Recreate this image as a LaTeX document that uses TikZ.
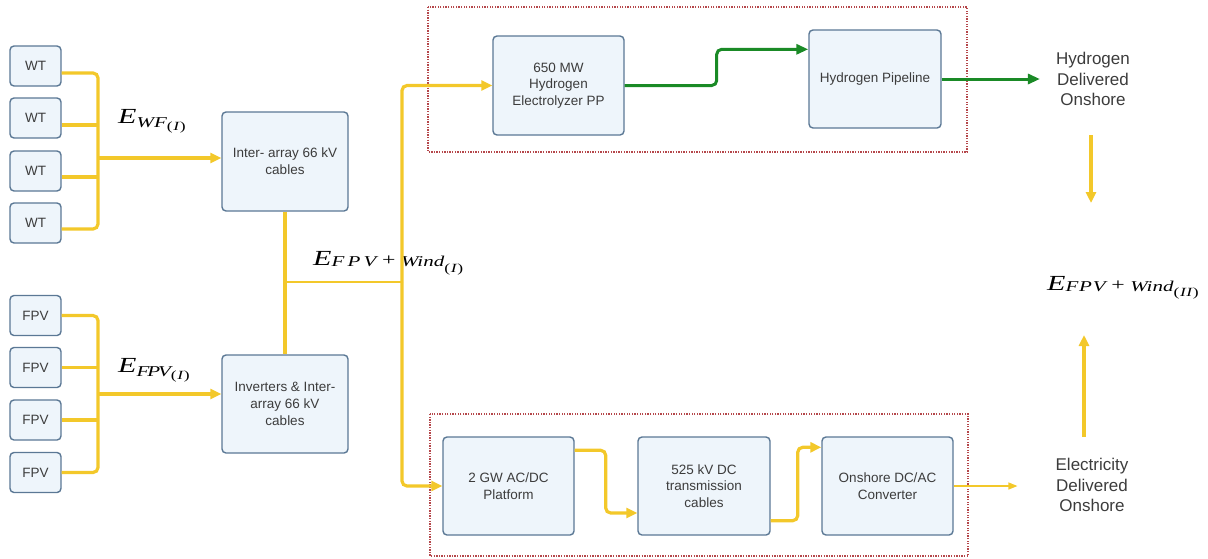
\documentclass[tikz,border=0pt]{standalone}
\usepackage[no-math]{fontspec}
\usepackage{graphicx}
\setmainfont{Liberation Sans}
\newfontfamily\eqfont{Liberation Serif}
\usetikzlibrary{arrows.meta,calc}
\definecolor{boxfill}{HTML}{EEF5FB}
\definecolor{boxline}{HTML}{5B7895}
\definecolor{wirecol}{HTML}{F3C82A}
\definecolor{gascol}{HTML}{1A8A26}
\definecolor{framecol}{HTML}{B5474B}
\definecolor{ink}{HTML}{3C3C3C}

% pieces of the energy symbols (set in a widened serif italic)
\newcommand{\Ebig}{{\fontsize{21.5}{24}\selectfont\itshape E}}
\newcommand{\esub}[2]{\raisebox{#1}{\fontsize{15}{18}\selectfont\itshape #2}}
\newcommand{\eidx}[2]{\raisebox{#1}{\fontsize{12.5}{15}\selectfont\upshape(\hspace{0.5pt}\itshape #2\hspace{0.5pt}\upshape)}}
\newcommand{\eplus}{\hspace{4pt}{\fontsize{17}{18}\selectfont\upshape +}\hspace{4pt}}
\newcommand{\wide}[1]{\scalebox{1.4}[1]{#1}}

\begin{document}
\begin{tikzpicture}[x=1pt,y=-1pt,
  unit/.style={draw=boxline, fill=boxfill, line width=1.4pt, rounded corners=4pt,
    text=ink, font=\fontsize{13.5}{16.7}\selectfont, align=center, inner sep=2pt},
  smallunit/.style={unit, minimum width=51pt, minimum height=40pt},
  bigunit/.style={unit, minimum width=131pt, minimum height=98pt},
  wire/.style={draw=wirecol, line width=3.2pt, rounded corners=5pt},
  flow/.style={wire, -{Triangle[length=11pt,width=10pt]}},
  thinflow/.style={draw=wirecol, line width=1.3pt, -{Triangle[length=9pt,width=7pt]}},
  gasflow/.style={draw=gascol, line width=3pt, rounded corners=5pt, -{Triangle[length=12pt,width=10pt]}},
  group/.style={draw=framecol, line width=1.3pt, dash pattern=on 1.3pt off 1.3pt},
  outtext/.style={text=ink, font=\fontsize{17}{20.5}\selectfont, align=center, inner sep=3pt},
  energy/.style={font=\eqfont, text=black, inner sep=0pt, anchor=base west}
]
\useasboundingbox (0,0) rectangle (1208,558);

% dotted frames around the hydrogen and electricity chains
\draw[group] (428,7) rectangle (967,152);
\draw[group] (430,414) rectangle (968,556);

% wind turbines
\node[smallunit] (wt1) at (35.5,66) {WT};
\node[smallunit] (wt2) at (35.5,118) {WT};
\node[smallunit] (wt3) at (35.5,171) {WT};
\node[smallunit] (wt4) at (35.5,223) {WT};

% floating PV units
\node[smallunit] (pv1) at (35.5,315.5) {FPV};
\node[smallunit] (pv2) at (35.5,367.5) {FPV};
\node[smallunit] (pv3) at (35.5,420) {FPV};
\node[smallunit] (pv4) at (35.5,472.5) {FPV};

% collection systems
\node[bigunit, minimum width=126pt, minimum height=99pt] (inter) at (285,161.5) {Inter- array 66 kV\\cables};
\node[bigunit, minimum width=126pt] (inv) at (285,404) {Inverters \& Inter-\\array 66 kV\\cables};

% hydrogen chain
\node[bigunit, minimum height=99pt] (elec) at (558.5,85.5) {650 MW\\Hydrogen\\Electrolyzer PP};
\node[bigunit, minimum width=132pt] (pipe) at (875,79) {Hydrogen Pipeline};

% electricity chain
\node[bigunit] (plat) at (508.5,486) {2 GW AC/DC\\Platform};
\node[bigunit, minimum width=132pt] (cable) at (704,486) {525 kV DC\\transmission\\cables};
\node[bigunit] (conv) at (887.5,486) {Onshore DC/AC\\Converter};

% onshore deliveries
\node[outtext] (h2) at (1093,79) {Hydrogen\\Delivered\\Onshore};
\node[outtext] (el) at (1092,485) {Electricity\\Delivered\\Onshore};

% energy labels
\node[energy] (ewf) at (118,123)
  {\wide{\Ebig\esub{-4pt}{WF}\eidx{-7pt}{I}}};
\node[energy] (efpv) at (118,372)
  {\wide{\Ebig\esub{-4pt}{F\hspace{-1.5pt}P\hspace{-1.5pt}V}\eidx{-7pt}{I}}};
\node[energy] (emix) at (313,265)
  {\wide{\Ebig\esub{-1.5pt}{F\hspace{2.3pt}P\hspace{2.3pt}V}\eplus\esub{-1.5pt}{Wind}\eidx{-7pt}{I}}};
\node[energy] (etot) at (1047,290)
  {\wide{\Ebig\esub{-1pt}{F\hspace{0.6pt}P\hspace{0.6pt}V}\eplus\esub{-1pt}{Wind}\eidx{-6pt}{I\hspace{0.3pt}I}}};

% wind turbine collection bus
\coordinate (w1) at ($(wt1.east)+(0,7)$);
\coordinate (w2) at ($(wt2.east)+(0,7)$);
\coordinate (w3) at ($(wt3.east)+(0,6)$);
\coordinate (w4) at ($(wt4.east)+(0,6)$);
\coordinate (wbus) at (98,158);
\draw[wire] (w1) -| (wbus) |- (w4);
\draw[wire] (w2) -- (w2 -| wbus);
\draw[wire] (w3) -- (w3 -| wbus);
\draw[flow] (wbus) -- (wbus -| inter.west);

% floating PV collection bus
\coordinate (pbus) at (98,394);
\draw[wire] (pv1.east) -| (pbus) |- (pv4.east);
\draw[wire] (pv2.east) -- (pv2.east -| pbus);
\draw[wire] (pv3.east) -- (pv3.east -| pbus);
\draw[flow] (pbus) -- (pbus -| inv.west);

% combined offshore export
\coordinate (tap) at (285,282);
\coordinate (trunk) at (402,282);
\draw[wire] (inter.south) -- (inv.north);
\draw[draw=wirecol, line width=1.1pt] (tap) -- (trunk);
\draw[flow] (trunk) |- (elec.west);
\draw[flow] (trunk) |- (plat.west);

% hydrogen route
\draw[gasflow] (elec.east) -- ++(92,0) |- ($(pipe.north west)+(0,20)$);
\draw[gasflow, shorten >=13pt] (pipe.east) -- (pipe.east -| h2.west);

% electricity route
\draw[flow] ($(plat.north east)+(0,14)$) -- ++(31,0) |- ($(cable.west)+(0,27)$);
\draw[flow] ($(cable.south east)+(0,-15)$) -- ++(27,0) |- ($(conv.north west)+(0,11)$);
\draw[thinflow, shorten >=35pt] (conv.east) -- (conv.east -| el.west);

% onshore totals
\coordinate (hdown) at (1091,135);
\coordinate (hend) at (1091,203);
\coordinate (eup) at (1084,437);
\coordinate (eend) at (1084,335);
\draw[flow] (hdown) -- (hend);
\draw[flow] (eup) -- (eend);
\end{tikzpicture}
\end{document}
